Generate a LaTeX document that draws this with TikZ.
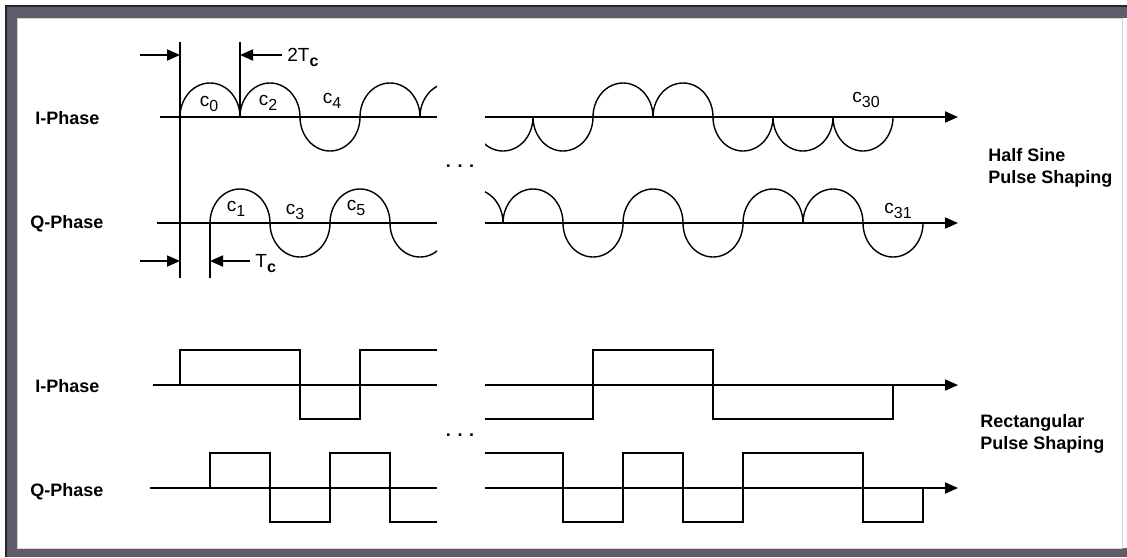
\documentclass[tikz,border=0pt]{standalone}
\usepackage{fontspec}
\setmainfont{Liberation Sans}
\usepackage{xcolor}
\usepackage{tikz}
\usetikzlibrary{arrows.meta, positioning}

\definecolor{khung}{RGB}{96,90,106}
\newcommand{\chiso}[1]{\raisebox{-0.5ex}{\footnotesize #1}}

\begin{document}
\begin{tikzpicture}[x=0.5pt, y=-0.5pt, >={Triangle[length=6.5pt,width=5.5pt]},
    truc/.style={line width=0.9pt},
    song/.style={line width=0.7pt},
    nhan/.style={font=\fontsize{9}{11}\selectfont\bfseries, inner sep=0pt, anchor=west},
    kyhieu/.style={font=\fontsize{9.5}{11}\selectfont, inner sep=0pt}]
    % Khung ngoài
    \useasboundingbox (0,0) rectangle (1127,557);
    \fill[khung] (5,5) rectangle (1127,18);
    \fill[khung] (5,5) rectangle (17,557);
    \fill[khung] (5,548) rectangle (1127,557);
    \draw[black!85, line width=1pt] (6,557) -- (6,6) -- (1127,6);
    \draw[gray!35, line width=0.5pt] (17,18) rectangle (1122,548);

    % Nhãn các dòng
    \node[nhan] (iSin) at (35,118) {I-Phase};
    \node[nhan] (qSin) at (30,224) {Q-Phase};
    \node[nhan] (iRect) at (35,386) {I-Phase};
    \node[nhan] (qRect) at (30,492) {Q-Phase};
    \node[nhan, align=left] (halfSine) at (988,168) {Half Sine\\Pulse Shaping};
    \node[nhan, align=left] (rectShape) at (980,434) {Rectangular\\Pulse Shaping};

    % Các trục thời gian
    \coordinate (iSinA) at (160,117);  \coordinate (iSinB) at (437,117);
    \coordinate (qSinA) at (157,223);  \coordinate (qSinB) at (437,223);
    \coordinate (iSinC) at (485,117);  \coordinate (iSinD) at (958,117);
    \coordinate (qSinC) at (485,223);  \coordinate (qSinD) at (958,223);
    \coordinate (iRectA) at (153,385); \coordinate (iRectB) at (437,385);
    \coordinate (qRectA) at (150,488); \coordinate (qRectB) at (437,488);
    \coordinate (iRectC) at (485,385); \coordinate (iRectD) at (958,385);
    \coordinate (qRectC) at (485,488); \coordinate (qRectD) at (958,488);
    \draw[truc] (iSinA) -- (iSinB);
    \draw[truc] (qSinA) -- (qSinB);
    \draw[truc, ->] (iSinC) -- (iSinD);
    \draw[truc, ->] (qSinC) -- (qSinD);
    \draw[truc] (iRectA) -- (iRectB);
    \draw[truc] (qRectA) -- (qRectB);
    \draw[truc, ->] (iRectC) -- (iRectD);
    \draw[truc, ->] (qRectC) -- (qRectD);

    % Xung nửa sin, phần bên trái
    \begin{scope}
        \clip (150,30) rectangle (437,300);
        \foreach \xa/\dau in {180/1, 240/1, 300/-1, 360/1, 420/1}
            \draw[song] plot[domain=180:0, samples=37] ({\xa+30+30*cos(\x)}, {117-\dau*34*sin(\x)});
        \foreach \xa/\dau in {210/1, 270/-1, 330/1, 390/-1}
            \draw[song] plot[domain=180:0, samples=37] ({\xa+30+30*cos(\x)}, {223-\dau*34*sin(\x)});
    \end{scope}
    % Xung nửa sin, phần bên phải
    \begin{scope}
        \clip (485,30) rectangle (960,300);
        \foreach \xa/\dau in {473/-1, 533/-1, 593/1, 653/1, 713/-1, 773/-1, 833/-1}
            \draw[song] plot[domain=180:0, samples=37] ({\xa+30+30*cos(\x)}, {117-\dau*34*sin(\x)});
        \foreach \xa/\dau in {443/1, 503/1, 563/-1, 623/1, 683/-1, 743/1, 803/1, 863/-1}
            \draw[song] plot[domain=180:0, samples=37] ({\xa+30+30*cos(\x)}, {223-\dau*34*sin(\x)});
    \end{scope}

    % Nhãn chip
    \node[kyhieu] (c0) at (209,104) {c\chiso{0}};
    \node[kyhieu] (c2) at (268,103) {c\chiso{2}};
    \node[kyhieu] (c4) at (332,101) {c\chiso{4}};
    \node[kyhieu] (c1) at (236,209) {c\chiso{1}};
    \node[kyhieu] (c3) at (295,212) {c\chiso{3}};
    \node[kyhieu] (c5) at (356,208) {c\chiso{5}};
    \node[kyhieu] (c30) at (866,100) {c\chiso{30}};
    \node[kyhieu] (c31) at (898,211) {c\chiso{31}};

    % Đường gióng và mũi tên đo Tc, 2Tc
    \coordinate (gA) at (180,42);  \coordinate (gB) at (180,278);
    \coordinate (gC) at (240,42);  \coordinate (gD) at (240,117);
    \coordinate (gE) at (210,223); \coordinate (gF) at (210,278);
    \draw[song] (gA) -- (gB);
    \draw[song] (gC) -- (gD);
    \draw[song] (gE) -- (gF);
    \coordinate (mA) at (140,55);  \coordinate (mA') at (180,55);
    \coordinate (mB) at (282,55);  \coordinate (mB') at (240,55);
    \coordinate (mC) at (140,261); \coordinate (mC') at (180,261);
    \coordinate (mD) at (250,261); \coordinate (mD') at (210,261);
    \draw[truc, ->] (mA) -- (mA');
    \draw[truc, ->] (mB) -- (mB');
    \draw[truc, ->] (mC) -- (mC');
    \draw[truc, ->] (mD) -- (mD');
    \node[kyhieu, anchor=west] (hai) at (287,57) {2T\chiso{\textbf{c}}};
    \node[kyhieu, anchor=west] (mot) at (255,264) {T\chiso{\textbf{c}}};

    % Xung chữ nhật
    \draw[song] (180,385) -- (180,350) -- (300,350) -- (300,419) -- (360,419) -- (360,350) -- (437,350);
    \draw[song] (210,488) -- (210,453) -- (270,453) -- (270,522) -- (330,522) -- (330,453)
        -- (390,453) -- (390,522) -- (437,522);
    \draw[song] (485,419) -- (593,419) -- (593,350) -- (713,350) -- (713,419) -- (893,419) -- (893,385);
    \draw[song] (485,453) -- (563,453) -- (563,522) -- (623,522) -- (623,453) -- (683,453)
        -- (683,522) -- (743,522) -- (743,453) -- (863,453) -- (863,522) -- (923,522) -- (923,488);

    % Dấu ba chấm
    \node[kyhieu, font=\fontsize{9}{11}\selectfont\bfseries] (chamA) at (460,166) {. . .};
    \node[kyhieu, font=\fontsize{9}{11}\selectfont\bfseries] (chamB) at (460,435) {. . .};
\end{tikzpicture}
\end{document}
